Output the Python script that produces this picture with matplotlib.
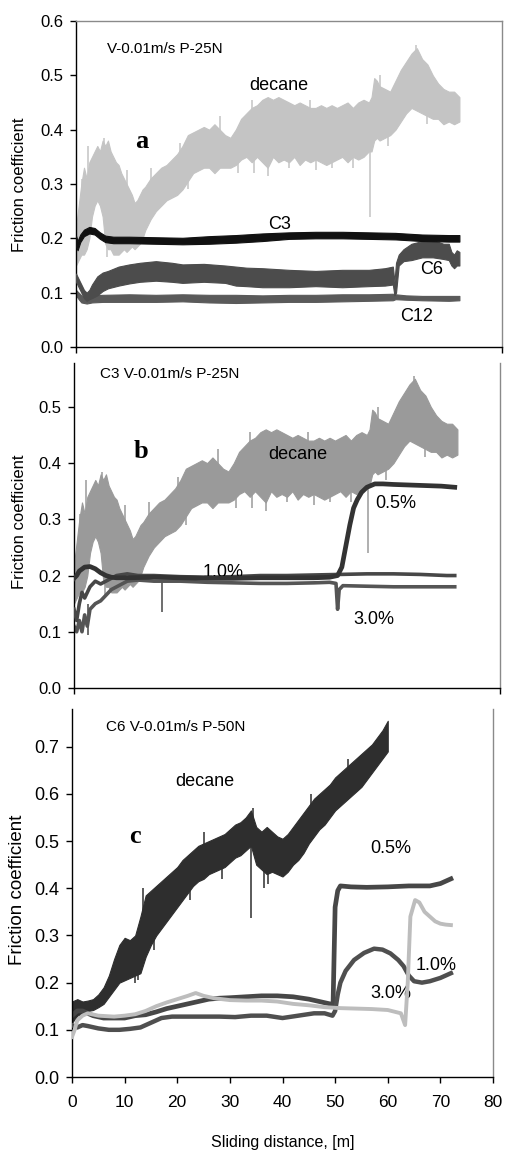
import matplotlib
matplotlib.use('Agg')
import matplotlib.pyplot as plt
from matplotlib.ticker import FormatStrFormatter

plt.rcParams['font.family'] = ['Liberation Sans', 'DejaVu Sans']

# ---------------- data ----------------
# decane run, 25 N (same run shown in panels a and b): upper / lower envelope of the noisy trace
dec25_x = [0, 0.5, 1, 1.5, 2, 2.5, 3, 3.5, 4, 4.5, 5, 5.5, 6, 6.5, 7, 7.5, 8, 8.5, 9, 9.5,
           10, 10.5, 11, 11.5, 12, 12.5, 13, 14, 15, 16, 17, 18, 19, 20, 21, 22, 23, 24, 25,
           26, 27, 28, 29, 30, 31, 32, 33, 34, 35, 36, 37, 38, 39, 40, 41, 42, 43, 44, 45,
           46, 47, 48, 49, 50, 51, 52, 53, 54, 55, 55.5, 56, 56.5, 57, 58, 59, 60, 61, 62,
           63, 64, 65, 66, 67, 68, 69, 70, 71, 72]
dec25_hi = [0.22, 0.26, 0.30, 0.33, 0.31, 0.34, 0.35, 0.36, 0.37, 0.36, 0.38, 0.37, 0.38, 0.36,
            0.35, 0.34, 0.335, 0.32, 0.31, 0.30, 0.29, 0.28, 0.265, 0.27, 0.28, 0.29, 0.295,
            0.31, 0.32, 0.33, 0.335, 0.345, 0.355, 0.37, 0.39, 0.395, 0.40, 0.405, 0.40, 0.41,
            0.40, 0.39, 0.385, 0.40, 0.42, 0.43, 0.44, 0.445, 0.455, 0.46, 0.455, 0.46, 0.455,
            0.45, 0.445, 0.45, 0.445, 0.44, 0.44, 0.445, 0.44, 0.445, 0.44, 0.445, 0.45, 0.44,
            0.45, 0.455, 0.45, 0.46, 0.495, 0.49, 0.48, 0.475, 0.47, 0.49, 0.51, 0.525, 0.54,
            0.55, 0.53, 0.52, 0.50, 0.485, 0.475, 0.47, 0.47, 0.46]
dec25_lo = [0.15, 0.16, 0.17, 0.17, 0.18, 0.20, 0.24, 0.26, 0.27, 0.26, 0.24, 0.19, 0.18, 0.18,
            0.17, 0.17, 0.17, 0.175, 0.18, 0.175, 0.18, 0.185, 0.18, 0.185, 0.19, 0.20, 0.215,
            0.235, 0.25, 0.26, 0.27, 0.275, 0.28, 0.29, 0.305, 0.32, 0.325, 0.33, 0.33, 0.32,
            0.33, 0.33, 0.33, 0.335, 0.345, 0.35, 0.34, 0.35, 0.34, 0.33, 0.35, 0.34, 0.345,
            0.34, 0.35, 0.335, 0.345, 0.34, 0.345, 0.34, 0.335, 0.34, 0.345, 0.35, 0.34, 0.35,
            0.345, 0.35, 0.36, 0.36, 0.38, 0.385, 0.38, 0.385, 0.39, 0.40, 0.415, 0.43, 0.44,
            0.435, 0.43, 0.425, 0.42, 0.42, 0.41, 0.415, 0.41, 0.415]
# isolated spikes of the decane trace: position, start and tip
dec25_spike_x = [1.2, 2.3, 5.2, 9.5, 14.0, 19.5, 27.0, 33.0, 44.0, 57.0, 63.8,
                 5.8, 21.0, 30.5, 33.5, 36.0, 40.0, 45.0, 48.0, 52.0, 55.3, 58.5, 66.0]
dec25_spike_from = [0.25, 0.28, 0.33, 0.26, 0.28, 0.33, 0.37, 0.40, 0.40, 0.45, 0.50,
                    0.25, 0.34, 0.37, 0.40, 0.40, 0.40, 0.40, 0.40, 0.40, 0.40, 0.42, 0.46]
dec25_spike_to = [0.31, 0.37, 0.385, 0.325, 0.33, 0.375, 0.425, 0.455, 0.455, 0.50, 0.555,
                  0.165, 0.29, 0.32, 0.32, 0.315, 0.33, 0.325, 0.33, 0.33, 0.24, 0.37, 0.41]

# panel a: C3, C6, C12 additives (upper / lower envelope)
c3_x = [0, 0.3, 0.8, 1.5, 2.5, 3.5, 4.5, 5.5, 7, 10, 15, 20, 25, 30, 35, 40, 45, 50, 55, 60, 65, 70, 72]
c3_hi = [0.205, 0.195, 0.207, 0.216, 0.221, 0.219, 0.211, 0.205, 0.203, 0.203, 0.202, 0.201,
         0.204, 0.206, 0.209, 0.211, 0.212, 0.212, 0.211, 0.210, 0.207, 0.206, 0.206]
c3_lo = [0.185, 0.178, 0.193, 0.204, 0.209, 0.207, 0.199, 0.193, 0.191, 0.191, 0.190, 0.189,
         0.190, 0.192, 0.195, 0.199, 0.200, 0.200, 0.199, 0.198, 0.195, 0.194, 0.194]

c6_x = [0, 0.5, 1, 1.5, 2, 2.5, 3, 4, 5, 6, 8, 10, 12, 15, 18, 20, 24, 28, 30, 32, 35, 40, 45,
        50, 55, 58, 59.5, 59.8, 60.1, 60.6, 61.5, 63, 65, 67, 69, 70, 70.5, 71, 71.5, 72]
c6_hi = [0.135, 0.125, 0.115, 0.105, 0.10, 0.105, 0.115, 0.13, 0.137, 0.14, 0.148, 0.152,
         0.155, 0.158, 0.155, 0.152, 0.153, 0.15, 0.148, 0.146, 0.145, 0.142, 0.14, 0.142,
         0.142, 0.145, 0.148, 0.12, 0.155, 0.17, 0.18, 0.19, 0.195, 0.197, 0.19, 0.19, 0.175,
         0.17, 0.178, 0.175]
c6_lo = [0.12, 0.11, 0.10, 0.09, 0.085, 0.088, 0.09, 0.095, 0.103, 0.108, 0.113, 0.117, 0.12,
         0.122, 0.12, 0.118, 0.12, 0.118, 0.113, 0.112, 0.11, 0.11, 0.112, 0.11, 0.112, 0.113,
         0.115, 0.095, 0.10, 0.15, 0.158, 0.16, 0.165, 0.165, 0.162, 0.16, 0.15, 0.145, 0.15, 0.15]

c12_x = [0, 0.5, 1, 2, 3, 5, 10, 15, 20, 25, 30, 35, 40, 45, 50, 55, 59.5, 60, 62, 65, 70, 72]
c12_hi = [0.105, 0.10, 0.095, 0.093, 0.095, 0.096, 0.097, 0.096, 0.097, 0.096, 0.096, 0.095,
          0.096, 0.096, 0.097, 0.097, 0.098, 0.097, 0.095, 0.094, 0.094, 0.094]
c12_lo = [0.095, 0.088, 0.082, 0.08, 0.082, 0.083, 0.083, 0.083, 0.084, 0.082, 0.081, 0.082,
          0.083, 0.083, 0.084, 0.085, 0.086, 0.088, 0.087, 0.086, 0.085, 0.086]

# panel b: C3 concentrations (centre line of each trace)
b05_x = [0, 0.5, 1, 2, 3, 4, 5, 6, 7, 8, 10, 15, 20, 25, 30, 35, 40, 45, 48, 49.5, 50.3, 51,
         51.8, 52.5, 53.2, 54, 55, 56.5, 58, 60, 63, 66, 69, 71.5]
b05_y = [0.195, 0.20, 0.208, 0.215, 0.216, 0.212, 0.205, 0.20, 0.197, 0.196, 0.196, 0.197,
         0.196, 0.195, 0.195, 0.196, 0.196, 0.196, 0.197, 0.20, 0.215, 0.25, 0.29, 0.32, 0.335,
         0.348, 0.357, 0.363, 0.363, 0.362, 0.361, 0.36, 0.359, 0.357]

b10_x = [0, 0.5, 1, 1.5, 2, 3, 4, 5, 6, 7, 8, 10, 12, 15, 20, 25, 30, 35, 40, 45, 50, 55, 60, 65, 70, 71.5]
b10_y = [0.14, 0.12, 0.15, 0.17, 0.16, 0.18, 0.19, 0.185, 0.19, 0.195, 0.20, 0.203, 0.20, 0.20,
         0.198, 0.197, 0.198, 0.20, 0.20, 0.201, 0.202, 0.203, 0.203, 0.202, 0.20, 0.20]

b30_x = [0, 0.5, 1, 1.5, 2, 2.5, 3, 4, 5, 6, 7, 8, 9, 10, 12, 15, 20, 25, 30, 35, 40, 45, 48,
         49.2, 49.5, 49.8, 50.5, 55, 60, 65, 70, 71.5]
b30_y = [0.11, 0.10, 0.12, 0.10, 0.13, 0.11, 0.14, 0.15, 0.155, 0.165, 0.175, 0.18, 0.185, 0.19,
         0.192, 0.19, 0.19, 0.188, 0.187, 0.186, 0.186, 0.187, 0.188, 0.186, 0.14, 0.175, 0.182,
         0.181, 0.18, 0.18, 0.18, 0.18]
b30_spike_x = [2.6, 16.5]
b30_spike_from = [0.15, 0.19]
b30_spike_to = [0.094, 0.135]

# panel c: decane at 50 N (upper / lower envelope)
dec50_x = list(range(0, 61))
dec50_hi = [0.16, 0.165, 0.16, 0.162, 0.165, 0.175, 0.19, 0.215, 0.25, 0.28, 0.295, 0.29, 0.30,
            0.34, 0.385, 0.395, 0.405, 0.415, 0.425, 0.435, 0.445, 0.46, 0.47, 0.48, 0.49, 0.495,
            0.50, 0.505, 0.51, 0.515, 0.525, 0.535, 0.54, 0.55, 0.565, 0.53, 0.52, 0.53, 0.52,
            0.51, 0.505, 0.515, 0.53, 0.545, 0.56, 0.575, 0.59, 0.60, 0.61, 0.62, 0.635, 0.645,
            0.655, 0.665, 0.675, 0.685, 0.695, 0.705, 0.72, 0.735, 0.755]
dec50_lo = [0.115, 0.13, 0.135, 0.14, 0.142, 0.148, 0.155, 0.17, 0.185, 0.20, 0.205, 0.21, 0.215,
            0.22, 0.255, 0.28, 0.30, 0.315, 0.33, 0.345, 0.36, 0.375, 0.39, 0.405, 0.415, 0.42,
            0.43, 0.435, 0.44, 0.445, 0.455, 0.465, 0.47, 0.48, 0.49, 0.45, 0.44, 0.43, 0.435,
            0.43, 0.425, 0.435, 0.45, 0.46, 0.475, 0.495, 0.51, 0.525, 0.535, 0.55, 0.565, 0.575,
            0.585, 0.595, 0.605, 0.615, 0.63, 0.645, 0.66, 0.675, 0.69]
dec50_spike_x = [12.0, 12.6, 15.5, 22.5, 28.5, 34.0, 36.5, 37.2, 34.3, 25.0, 13.5, 45.5, 52.5]
dec50_spike_from = [0.25, 0.25, 0.33, 0.43, 0.47, 0.50, 0.47, 0.46, 0.52, 0.46, 0.30, 0.54, 0.62]
dec50_spike_to = [0.20, 0.205, 0.27, 0.375, 0.42, 0.337, 0.40, 0.41, 0.57, 0.52, 0.40, 0.60, 0.675]

# panel c: C6 concentrations (centre line of each trace)
c05_x = [0, 1, 2, 3, 4, 6, 8, 10, 12, 14, 16, 18, 20, 22, 24, 26, 28, 30, 33, 36, 39, 42, 45,
         47, 49, 49.6, 50, 50.5, 51, 53, 56, 60, 64, 68, 70, 71, 72]
c05_y = [0.13, 0.14, 0.14, 0.135, 0.13, 0.125, 0.125, 0.125, 0.13, 0.132, 0.138, 0.145, 0.15,
         0.155, 0.16, 0.165, 0.167, 0.168, 0.17, 0.172, 0.172, 0.17, 0.165, 0.16, 0.155, 0.15,
         0.36, 0.395, 0.405, 0.403, 0.402, 0.403, 0.405, 0.405, 0.41, 0.415, 0.42]

c10_x = [0, 1, 2, 3, 5, 7, 9, 11, 13, 15, 17, 19, 22, 25, 28, 31, 34, 37, 40, 43, 46, 48, 49.5,
         50, 50.5, 51, 52, 53.6, 55.5, 57.4, 59, 60.5, 62, 63, 64, 65, 66.5, 68, 70, 72]
c10_y = [0.11, 0.105, 0.11, 0.108, 0.103, 0.10, 0.10, 0.102, 0.105, 0.115, 0.125, 0.128, 0.128,
         0.128, 0.128, 0.127, 0.13, 0.13, 0.125, 0.13, 0.135, 0.135, 0.13, 0.14, 0.175, 0.20,
         0.225, 0.248, 0.263, 0.272, 0.27, 0.262, 0.248, 0.235, 0.215, 0.203, 0.20, 0.203, 0.21, 0.22]

c30_x = [0, 0.5, 1, 2, 3, 5, 8, 10, 12, 14, 16, 18, 20, 22, 23.5, 25, 27, 30, 33, 36, 39, 42,
         45, 48, 51, 54, 57, 60, 62.5, 63.3, 63.8, 64.3, 65.2, 66, 67, 68, 69, 70, 71, 72]
c30_y = [0.085, 0.10, 0.12, 0.13, 0.135, 0.13, 0.128, 0.13, 0.133, 0.14, 0.15, 0.158, 0.165,
         0.172, 0.178, 0.172, 0.167, 0.163, 0.162, 0.162, 0.16, 0.155, 0.152, 0.148, 0.146,
         0.145, 0.144, 0.142, 0.135, 0.11, 0.20, 0.34, 0.375, 0.37, 0.35, 0.34, 0.33, 0.325,
         0.323, 0.322]

y_ticks_a = [0.0, 0.1, 0.2, 0.3, 0.4, 0.5, 0.6]
y_ticks_b = [0.0, 0.1, 0.2, 0.3, 0.4, 0.5]
y_ticks_c = [0.0, 0.1, 0.2, 0.3, 0.4, 0.5, 0.6, 0.7]
x_ticks_c = [0, 10, 20, 30, 40, 50, 60, 70, 80]

# ---------------- figure ----------------
W, H = 505, 1154
fig = plt.figure(figsize=(W / 100, H / 100), dpi=100)


def add_ax(l, r, t, b):
    return fig.add_axes([l / W, 1 - b / H, (r - l) / W, (b - t) / H])


def style(ax, ylim, yticks, top_spine, xlabels, ysize):
    ax.set_xlim(0, 80)
    ax.set_ylim(*ylim)
    ax.set_yticks(yticks)
    ax.yaxis.set_major_formatter(FormatStrFormatter('%.1f'))
    for s in ('left', 'bottom'):
        ax.spines[s].set_color('black')
        ax.spines[s].set_linewidth(1.0)
    ax.spines['right'].set_color('#8a8a8a')
    ax.spines['right'].set_linewidth(1.0)
    if top_spine:
        ax.spines['top'].set_color('#8a8a8a')
        ax.spines['top'].set_linewidth(1.0)
    else:
        ax.spines['top'].set_visible(False)
    ax.tick_params(axis='y', direction='out', length=4, width=1, pad=5, labelsize=ysize)
    if xlabels:
        ax.set_xticks(x_ticks_c)
        ax.tick_params(axis='x', direction='out', length=4, width=1, pad=9, labelsize=12.5)
    else:
        ax.set_xticks([0, 80])
        ax.tick_params(axis='x', direction='out', length=4, width=1, labelbottom=False)


def band(ax, x, lo, hi, color, z):
    ax.fill_between(x, lo, hi, color=color, lw=0.8, zorder=z)


lab_kw = dict(fontsize=13, color='black', ha='center', va='center')
big_kw = dict(fontsize=19, fontweight='bold', family='Liberation Serif', ha='center', va='center')

# ---- panel a ----
axa = add_ax(76, 502, 21, 347)
style(axa, (0, 0.6), y_ticks_a, True, False, 12)
band(axa, dec25_x, dec25_lo, dec25_hi, '#c4c4c4', 1)
axa.vlines(dec25_spike_x, dec25_spike_from, dec25_spike_to, color='#c4c4c4', lw=1.1, zorder=1)
band(axa, c12_x, c12_lo, c12_hi, '#5a5a5a', 2)
band(axa, c6_x, c6_lo, c6_hi, '#4c4c4c', 3)
band(axa, c3_x, c3_lo, c3_hi, '#111111', 4)
axa.text(12.4, 0.379, 'a', **big_kw)
axa.text(38.1, 0.482, 'decane', **lab_kw)
axa.text(38.3, 0.226, 'C3', **lab_kw)
axa.text(66.8, 0.142, 'C6', **lab_kw)
axa.text(64.0, 0.057, 'C12', **lab_kw)

# ---- panel b ----
axb = add_ax(74, 500, 363, 688)
style(axb, (0, 0.578), y_ticks_b, False, False, 12)
band(axb, dec25_x, dec25_lo, dec25_hi, '#9a9a9a', 1)
axb.vlines(dec25_spike_x, dec25_spike_from, dec25_spike_to, color='#9a9a9a', lw=1.1, zorder=1)
axb.plot(b30_x, b30_y, color='#555555', lw=2.6, zorder=2)
axb.vlines(b30_spike_x, b30_spike_from, b30_spike_to, color='#555555', lw=1.2, zorder=2)
axb.plot(b10_x, b10_y, color='#474747', lw=2.6, zorder=3)
axb.plot(b05_x, b05_y, color='#333333', lw=3.4, zorder=4)
axb.text(12.6, 0.42, 'b', **big_kw)
axb.text(42.1, 0.415, 'decane', **lab_kw)
axb.text(60.5, 0.329, '0.5%', **lab_kw)
axb.text(28.0, 0.206, '1.0%', **lab_kw)
axb.text(56.3, 0.121, '3.0%', **lab_kw)

# ---- panel c ----
axc = add_ax(72, 493, 709, 1077)
style(axc, (0, 0.78), y_ticks_c, False, True, 13)
band(axc, dec50_x, dec50_lo, dec50_hi, '#2e2e2e', 1)
axc.vlines(dec50_spike_x, dec50_spike_from, dec50_spike_to, color='#2e2e2e', lw=1.1, zorder=1)
axc.plot(c05_x, c05_y, color='#474747', lw=3.4, zorder=2)
axc.plot(c10_x, c10_y, color='#4f4f4f', lw=3.2, zorder=3)
axc.plot(c30_x, c30_y, color='#bdbdbd', lw=2.8, zorder=4)
axc.text(12.0, 0.51, 'c', **big_kw)
axc.text(25.3, 0.626, 'decane', **lab_kw)
axc.text(60.6, 0.485, '0.5%', **lab_kw)
axc.text(69.2, 0.237, '1.0%', **lab_kw)
axc.text(60.6, 0.178, '3.0%', **lab_kw)

# header texts (placed in figure pixels)
fig.text(107 / W, 1 - 49 / H, 'V-0.01m/s P-25N', fontsize=11, ha='left', va='center')
fig.text(100 / W, 1 - 374 / H, 'C3 V-0.01m/s P-25N', fontsize=11, ha='left', va='center')
fig.text(106 / W, 1 - 727 / H, 'C6 V-0.01m/s P-50N', fontsize=11, ha='left', va='center')

# axis titles
fig.text(20 / W, 1 - 185 / H, 'Friction coefficient', rotation=90, fontsize=12, ha='center', va='center')
fig.text(20 / W, 1 - 522 / H, 'Friction coefficient', rotation=90, fontsize=12, ha='center', va='center')
fig.text(18 / W, 1 - 890 / H, 'Friction coefficient', rotation=90, fontsize=13.5, ha='center', va='center')
fig.text(283 / W, 1 - 1143 / H, 'Sliding distance, [m]', fontsize=11.5, ha='center', va='center')

fig.savefig('out.png', dpi=100)
